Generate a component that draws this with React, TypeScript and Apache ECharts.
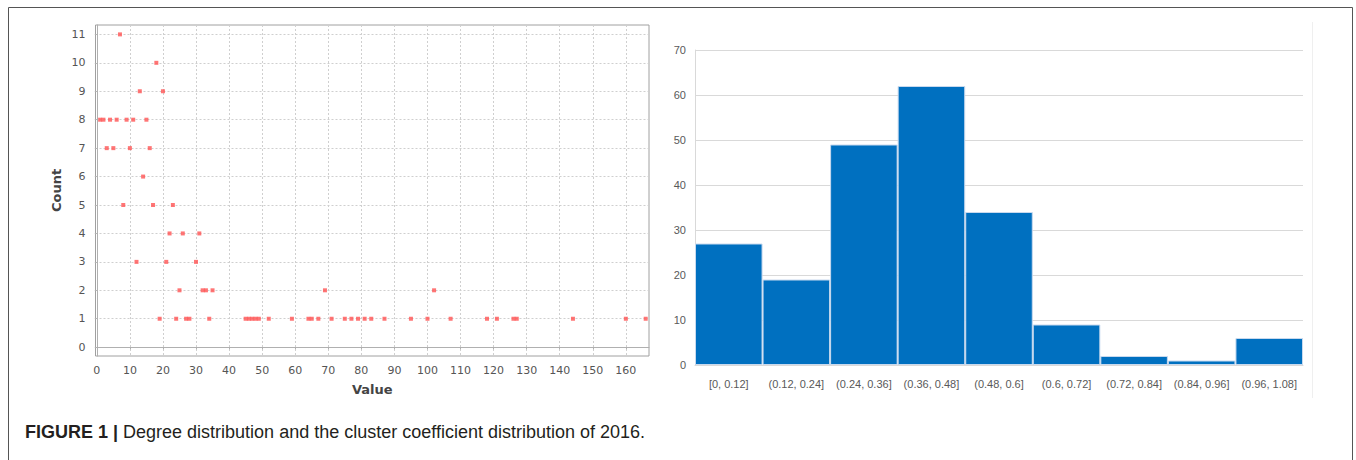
import React, { useEffect, useRef } from "react";
import * as echarts from "echarts";

// Degree distribution (left): node degree and how many nodes have it
const degreeValues = [
  7, 18, 13, 20, 1, 2, 4, 6, 9, 11, 15, 3, 5, 10, 16, 14, 8, 17, 23, 22, 26, 31, 12, 21, 30,
  25, 32, 33, 35, 69, 102,
  19, 24, 27, 28, 34, 45, 46, 47, 48, 49, 52, 59, 64, 65, 67, 71, 75, 77, 79, 81, 83, 87, 95,
  100, 107, 118, 121, 126, 127, 144, 160, 166,
];
const degreeCounts = [
  11, 10, 9, 9, 8, 8, 8, 8, 8, 8, 8, 7, 7, 7, 7, 6, 5, 5, 5, 4, 4, 4, 3, 3, 3,
  2, 2, 2, 2, 2, 2,
  1, 1, 1, 1, 1, 1, 1, 1, 1, 1, 1, 1, 1, 1, 1, 1, 1, 1, 1, 1, 1, 1, 1,
  1, 1, 1, 1, 1, 1, 1, 1, 1,
];
const degreeTicks = [0, 10, 20, 30, 40, 50, 60, 70, 80, 90, 100, 110, 120, 130, 140, 150, 160];
const countTicks = [0, 1, 2, 3, 4, 5, 6, 7, 8, 9, 10, 11];

// Cluster coefficient distribution (right)
const clusterBins = [
  "[0, 0.12]",
  "(0.12, 0.24]",
  "(0.24, 0.36]",
  "(0.36, 0.48]",
  "(0.48, 0.6]",
  "(0.6, 0.72]",
  "(0.72, 0.84]",
  "(0.84, 0.96]",
  "(0.96, 1.08]",
];
const clusterCounts = [27, 19, 49, 62, 34, 9, 2, 1, 6];

export default function App() {
  const ref = useRef<HTMLDivElement>(null);

  useEffect(() => {
    if (!ref.current) return;
    const chart = echarts.init(ref.current, null, { renderer: "svg" });

    const scatterData = degreeValues.map((v, i) => [v, degreeCounts[i]]);
    const leftFont = "DejaVu Sans, sans-serif";
    const rightFont = "'Liberation Sans Narrow', 'Arial Narrow', 'Liberation Sans', sans-serif";
    const captionFont = "'Liberation Sans', Arial, sans-serif";

    chart.setOption({
      animation: false,
      backgroundColor: "#ffffff",
      grid: [
        {
          left: 95.5,
          top: 25,
          width: 553.5,
          height: 331,
          show: true,
          borderColor: "#a0a0a0",
          borderWidth: 1,
          backgroundColor: "transparent",
        },
        { left: 695, top: 50, width: 608, height: 315 },
      ],
      xAxis: [
        {
          gridIndex: 0,
          type: "value",
          min: -0.4,
          max: 167,
          offset: 2,
          name: "Value",
          nameLocation: "middle",
          nameGap: 25,
          nameTextStyle: { fontFamily: leftFont, fontSize: 13, fontWeight: "bold", color: "#444" },
          axisLine: { show: true, lineStyle: { color: "#b0b0b0" } },
          axisTick: { show: true, customValues: degreeTicks, length: 2, lineStyle: { color: "#b0b0b0" } },
          axisLabel: {
            customValues: degreeTicks,
            fontFamily: leftFont,
            fontSize: 11,
            color: "#555",
            margin: 7,
          },
          splitLine: { show: true, lineStyle: { color: "#cfcfcf", type: [2, 2] } },
        },
        {
          gridIndex: 1,
          type: "category",
          data: clusterBins,
          axisLine: { show: true, lineStyle: { color: "#d9d9d9" } },
          axisTick: { show: false },
          axisLabel: {
            interval: 0,
            fontFamily: rightFont,
            fontSize: 11,
            color: "#595959",
            margin: 13,
          },
          splitLine: { show: false },
        },
      ],
      yAxis: [
        {
          gridIndex: 0,
          type: "value",
          min: -0.31,
          max: 11.33,
          offset: 2,
          name: "Count",
          nameLocation: "middle",
          nameGap: 31,
          nameTextStyle: { fontFamily: leftFont, fontSize: 13, fontWeight: "bold", color: "#444" },
          axisLine: { show: true, lineStyle: { color: "#b0b0b0" } },
          axisTick: { show: true, customValues: countTicks, length: 2, lineStyle: { color: "#b0b0b0" } },
          axisLabel: {
            customValues: countTicks,
            fontFamily: leftFont,
            fontSize: 11,
            color: "#555",
            margin: 8,
          },
          splitLine: { show: true, lineStyle: { color: "#cfcfcf", type: [2, 2] } },
        },
        {
          gridIndex: 1,
          type: "value",
          min: 0,
          max: 70,
          interval: 10,
          axisLine: { show: true, lineStyle: { color: "#d9d9d9" } },
          axisTick: { show: false },
          axisLabel: { fontFamily: rightFont, fontSize: 11, color: "#595959", margin: 9 },
          splitLine: { show: true, lineStyle: { color: "#d9d9d9", width: 1 } },
        },
      ],
      series: [
        {
          type: "scatter",
          xAxisIndex: 0,
          yAxisIndex: 0,
          data: scatterData,
          symbol: "rect",
          symbolSize: 4,
          itemStyle: { color: "#ff5252" },
          clip: false,
        },
        {
          type: "bar",
          xAxisIndex: 1,
          yAxisIndex: 1,
          data: clusterCounts,
          barCategoryGap: "0%",
          itemStyle: { color: "#0070c0", borderColor: "#c8d9ee", borderWidth: 1 },
        },
      ],
      graphic: [
        {
          type: "rect",
          shape: { x: 8.5, y: 7.5, width: 1344, height: 470 },
          style: { fill: "none", stroke: "#555", lineWidth: 1 },
          silent: true,
        },
        {
          type: "line",
          shape: { x1: 1312.5, y1: 22, x2: 1312.5, y2: 398 },
          style: { stroke: "#efefef", lineWidth: 1 },
          silent: true,
        },
        {
          type: "text",
          x: 25,
          y: 432,
          style: {
            text: "{b|FIGURE 1 |} Degree distribution and the cluster coefficient distribution of 2016.",
            fontFamily: captionFont,
            fontSize: 18,
            fill: "#231f20",
            verticalAlign: "middle",
            rich: {
              b: {
                fontFamily: captionFont,
                fontSize: 18,
                fontWeight: "bold",
                fill: "#231f20",
              },
            },
          },
          silent: true,
        },
      ],
    });

    return () => chart.dispose();
  }, []);

  return (
    <div
      ref={ref}
      style={{ position: "absolute", left: 0, top: 0, width: 1356, height: 460, background: "#fff" }}
    />
  );
}
